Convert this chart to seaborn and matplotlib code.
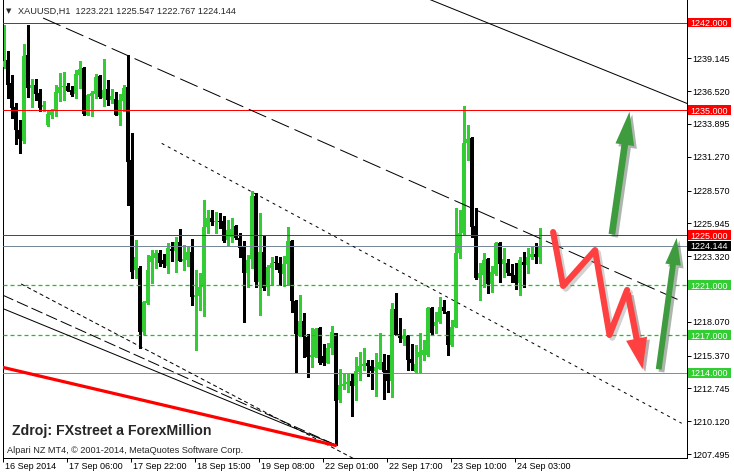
import numpy as np
import pandas as pd
import matplotlib
matplotlib.use("Agg")
import matplotlib.pyplot as plt
import seaborn as sns
from matplotlib.patches import FancyArrowPatch, Rectangle, ArrowStyle
from matplotlib.transforms import ScaledTranslation
import matplotlib.patheffects as pe
from matplotlib import font_manager as fm

# ---------------- data ----------------
title_text = "XAUUSD,H1  1223.221 1225.547 1222.767 1224.144"
source_text = "Zdroj: FXstreet a ForexMillion"
copyright_text = "Alpari NZ MT4, \u00a9 2001-2014, MetaQuotes Software Corp."

opens = [1238.42, 1239.02, 1237.16, 1235.24, 1233.40, 1232.54, 1239.42, 1236.76, 1237.02, 1236.36,
         1235.22, 1233.78, 1234.58, 1234.90, 1236.36, 1236.86, 1236.94, 1236.62, 1236.28, 1237.78,
         1238.36, 1234.62, 1236.10, 1236.28, 1237.70, 1235.96, 1236.70, 1235.82, 1235.90, 1234.62,
         1235.70, 1236.82, 1231.00, 1222.20, 1222.34, 1217.24, 1219.54, 1222.86, 1223.14, 1223.54,
         1223.00, 1222.52, 1223.88, 1223.74, 1224.46, 1222.94, 1223.00, 1223.66, 1220.06, 1220.12,
         1220.82, 1225.62, 1226.34, 1226.06, 1226.14, 1226.14, 1224.60, 1224.86, 1225.72, 1224.74,
         1224.06, 1221.94, 1223.06, 1228.12, 1221.26, 1223.66, 1220.82, 1222.34, 1222.78, 1222.78,
         1221.88, 1222.68, 1224.54, 1219.74, 1217.00, 1218.14, 1216.86, 1215.26, 1215.26, 1217.58,
         1215.32, 1214.78, 1215.94, 1217.14, 1211.80, 1212.92, 1213.14, 1213.32, 1212.92, 1214.06,
         1214.52, 1214.78, 1214.52, 1214.14, 1214.34, 1214.84, 1214.20, 1213.34, 1219.06, 1217.08,
         1216.68, 1216.92, 1215.08, 1214.06, 1215.27, 1215.40, 1215.40, 1219.14, 1217.72, 1218.06,
         1219.26, 1218.86, 1216.20, 1217.66, 1223.54, 1225.14, 1232.38, 1232.74, 1225.72, 1221.54,
         1221.80, 1223.06, 1221.08, 1221.88, 1224.38, 1222.68, 1222.74, 1221.98, 1221.80, 1221.18,
         1222.86, 1222.60, 1223.26, 1223.48, 1223.221]
highs = [1241.82, 1239.70, 1237.82, 1235.56, 1234.22, 1240.28, 1241.78, 1237.50, 1237.50, 1236.70,
         1235.74, 1234.90, 1235.10, 1237.02, 1237.96, 1238.04, 1237.16, 1236.90, 1238.22, 1238.94,
         1238.42, 1236.28, 1236.54, 1237.88, 1237.82, 1239.10, 1237.42, 1236.70, 1236.44, 1236.28,
         1237.02, 1239.42, 1233.14, 1224.60, 1222.52, 1219.72, 1223.40, 1223.80, 1223.80, 1223.80,
         1223.48, 1224.38, 1224.46, 1224.86, 1225.48, 1224.20, 1224.06, 1224.66, 1222.20, 1221.94,
         1227.80, 1227.00, 1227.00, 1226.86, 1226.74, 1226.52, 1226.20, 1226.34, 1225.80, 1225.14,
         1224.54, 1223.40, 1228.54, 1228.34, 1226.74, 1224.92, 1222.60, 1223.26, 1223.32, 1223.26,
         1223.32, 1225.66, 1224.60, 1219.80, 1220.20, 1218.78, 1217.08, 1217.54, 1217.56, 1217.64,
         1216.28, 1216.34, 1217.72, 1217.18, 1214.34, 1213.94, 1213.98, 1213.98, 1215.26, 1215.66,
         1215.94, 1215.06, 1215.00, 1215.58, 1217.18, 1215.54, 1215.40, 1219.58, 1220.34, 1218.34,
         1217.46, 1217.00, 1216.28, 1216.20, 1217.16, 1216.60, 1219.24, 1219.24, 1218.86, 1220.02,
         1219.80, 1218.92, 1218.20, 1227.14, 1227.00, 1235.32, 1233.80, 1232.84, 1227.14, 1222.74,
         1223.54, 1223.16, 1222.52, 1224.46, 1224.46, 1223.94, 1223.06, 1222.68, 1222.74, 1223.26,
         1223.66, 1223.94, 1224.06, 1224.34, 1225.547]
lows = [1238.36, 1235.96, 1234.36, 1232.28, 1231.56, 1232.36, 1236.02, 1235.24, 1235.82, 1234.90,
        1234.94, 1233.70, 1234.36, 1234.50, 1235.70, 1235.82, 1236.50, 1236.10, 1235.96, 1236.76,
        1234.58, 1234.58, 1234.50, 1235.96, 1235.96, 1235.30, 1235.38, 1235.56, 1234.58, 1233.78,
        1234.90, 1227.40, 1221.54, 1221.54, 1215.94, 1217.08, 1219.48, 1221.18, 1222.34, 1222.52,
        1222.42, 1221.98, 1222.94, 1222.06, 1222.92, 1222.20, 1222.52, 1219.40, 1215.80, 1219.00,
        1218.52, 1225.14, 1225.80, 1225.14, 1225.54, 1224.46, 1224.20, 1224.46, 1224.66, 1223.26,
        1218.06, 1220.86, 1222.34, 1220.84, 1218.60, 1220.60, 1220.20, 1221.00, 1222.26, 1221.00,
        1220.92, 1221.00, 1218.86, 1214.00, 1216.92, 1215.26, 1213.66, 1214.46, 1215.24, 1214.74,
        1214.60, 1214.76, 1215.54, 1208.20, 1211.66, 1212.74, 1212.46, 1210.54, 1211.80, 1213.40,
        1214.20, 1213.72, 1212.74, 1212.12, 1214.28, 1211.94, 1212.46, 1212.06, 1216.98, 1216.46,
        1216.20, 1214.26, 1214.26, 1214.04, 1214.04, 1215.00, 1215.32, 1217.08, 1217.14, 1217.96,
        1218.76, 1215.40, 1216.12, 1217.64, 1223.14, 1225.08, 1231.00, 1224.86, 1221.50, 1219.80,
        1220.86, 1220.38, 1220.44, 1221.84, 1221.26, 1221.66, 1221.80, 1221.26, 1220.66, 1220.20,
        1220.86, 1221.94, 1223.06, 1222.78, 1222.767]
closes = [1238.94, 1237.02, 1235.16, 1233.40, 1232.68, 1239.30, 1236.76, 1237.02, 1236.28, 1235.16,
          1235.38, 1234.68, 1234.90, 1236.44, 1236.84, 1236.94, 1236.54, 1236.22, 1237.88, 1238.30,
          1234.68, 1236.18, 1236.36, 1237.62, 1236.02, 1236.62, 1235.82, 1236.10, 1234.62, 1235.82,
          1236.76, 1230.86, 1222.06, 1223.26, 1217.26, 1219.66, 1222.20, 1223.32, 1223.58, 1222.78,
          1222.68, 1223.94, 1223.72, 1224.46, 1222.94, 1223.10, 1223.66, 1220.06, 1220.20, 1220.82,
          1225.66, 1226.34, 1226.06, 1226.14, 1226.04, 1224.54, 1225.40, 1225.46, 1224.74, 1223.94,
          1221.94, 1223.00, 1228.12, 1221.26, 1223.66, 1220.74, 1222.42, 1222.78, 1222.74, 1221.94,
          1222.68, 1224.54, 1219.74, 1217.08, 1218.14, 1216.82, 1215.26, 1215.40, 1217.46, 1214.78,
          1214.78, 1215.94, 1217.22, 1211.74, 1213.00, 1213.14, 1213.26, 1212.92, 1214.14, 1214.52,
          1214.68, 1214.52, 1214.14, 1214.46, 1214.86, 1214.06, 1213.34, 1219.06, 1217.02, 1216.74,
          1216.92, 1215.06, 1214.78, 1214.74, 1215.67, 1215.80, 1219.14, 1217.14, 1218.04, 1219.26,
          1218.94, 1216.20, 1217.66, 1223.54, 1225.14, 1232.34, 1232.66, 1225.66, 1221.54, 1221.94,
          1223.00, 1221.08, 1222.06, 1224.38, 1222.68, 1223.06, 1221.94, 1221.72, 1221.18, 1223.00,
          1222.60, 1223.26, 1223.48, 1223.22, 1224.144]

time_tick_bars = [0, 16, 32, 48, 64, 80, 96, 112, 128]
time_labels = ["16 Sep 2014", "17 Sep 06:00", "17 Sep 22:00", "18 Sep 15:00", "19 Sep 08:00",
               "22 Sep 01:00", "22 Sep 17:00", "23 Sep 10:00", "24 Sep 03:00"]
price_ticks = [1239.145, 1236.520, 1233.895, 1231.270, 1228.570, 1225.945, 1223.320,
               1220.695, 1218.070, 1215.370, 1212.745, 1210.120, 1207.495]
red_levels = [1242.0, 1235.0, 1225.0]
green_dashed_levels = [1221.0, 1217.0]
green_solid_levels = [1214.0]
bid_price = 1224.144

# trend lines: (bar index list, price list)
upper_long_dash = ([9.9, 169.1], [1242.36, 1219.78])
upper_solid = ([100.0, 171.5], [1244.69, 1235.45])
middle_dotted = ([39.55, 169.55], [1232.34, 1209.96])
lower_solid = ([-0.3, 83.0], [1219.15, 1208.23])
lower_long_dash = ([-0.3, 83.0], [1220.22, 1208.23])
lower_dotted = ([4.4, 87.4], [1221.10, 1207.16])
lower_red = ([-0.3, 83.0], [1214.44, 1208.19])

# hand-drawn forecast arrows (bar index, price)
red_zigzag_bars = [137.4, 139.9, 147.9, 151.5, 155.9, 159.9]
red_zigzag_prices = [1225.25, 1220.94, 1223.81, 1217.02, 1220.62, 1214.06]
green_arrow1 = ((152.0, 1224.85), (156.6, 1235.09))
green_arrow2 = ((163.7, 1214.06), (168.4, 1225.01))

# ---------------- style ----------------
sns.set_theme(style="white")
names = {f.name for f in fm.fontManager.ttflist}
base_font = "Liberation Sans" if "Liberation Sans" in names else "DejaVu Sans"
narrow_font = "Liberation Sans Narrow" if "Liberation Sans Narrow" in names else base_font
plt.rcParams["font.family"] = [base_font, "DejaVu Sans"]

W, H = 734, 475
fig = plt.figure(figsize=(W / 100, H / 100), dpi=100, facecolor="white")
ax_left, ax_right, ax_top, ax_bot = 2.7, 686.7, 0.0, 457.7
ax = fig.add_axes([ax_left / W, 1 - ax_bot / H, (ax_right - ax_left) / W, (ax_bot - ax_top) / H])
ax.set_facecolor("white")

X0 = -0.2
X1 = 170.8
Y0 = 1207.21
Y1 = 1243.80
ax.set_xlim(X0, X1)
ax.set_ylim(Y0, Y1)

df = pd.DataFrame({"bar": np.arange(len(opens)), "open": opens, "high": highs,
                   "low": lows, "close": closes})
df["bull"] = df["close"] >= df["open"]
df["color"] = np.where(df["bull"], "#32CD32", "#000000")
df["body_lo"] = df[["open", "close"]].min(axis=1)
df["body_h"] = (df["close"] - df["open"]).abs().clip(lower=0.09)

PX = 0.72  # one pixel in points
ax.vlines(df["bar"], df["low"], df["high"], colors=df["color"], linewidth=PX * 1.1,
          zorder=2, antialiased=False)
ax.bar(df["bar"], df["body_h"], bottom=df["body_lo"], width=0.74, color=df["color"],
       linewidth=0, zorder=3, antialiased=False)

# horizontal levels
for lv in red_levels:
    ax.axhline(lv, color="#FF0000", lw=PX, zorder=4)
for lv in green_dashed_levels:
    ax.axhline(lv, color="#1FC01F", lw=PX * 1.25, ls=(0, (3.2, 2.4)), zorder=4)
for lv in green_solid_levels:
    ax.axhline(lv, color="#32CD32", lw=PX, zorder=4)
ax.axhline(bid_price, color="#778899", lw=PX, zorder=4)


def trend(xy, ls, color="black", lw=PX):
    sns.lineplot(x=xy[0], y=xy[1], ax=ax, color=color, linewidth=lw, linestyle=ls,
                 sort=False, estimator=None, legend=False, zorder=5)


trend(upper_long_dash, (0, (19, 6)))
trend(upper_solid, "-")
trend(middle_dotted, (0, (3, 4)))
trend(lower_solid, "-")
trend(lower_long_dash, (0, (12, 4)))
trend(lower_dotted, (0, (4, 3)))
trend(lower_red, "-", color="#FF0000", lw=2.3)

# forecast arrows
red_col = "#FF4040"
shadow = [pe.SimpleLineShadow(offset=(2, -2), shadow_color="gray", alpha=0.35), pe.Normal()]
ax.plot(red_zigzag_bars[:-1], red_zigzag_prices[:-1], color=red_col, lw=4.4,
        solid_joinstyle="round", solid_capstyle="round", zorder=6, path_effects=shadow)
arr_r = FancyArrowPatch((red_zigzag_bars[-2], red_zigzag_prices[-2]),
                        (red_zigzag_bars[-1], red_zigzag_prices[-1]),
                        arrowstyle=ArrowStyle("Simple", head_length=1.6, head_width=1.1, tail_width=0.32),
                        mutation_scale=14, color=red_col, lw=0, zorder=6,
                        path_effects=[pe.withSimplePatchShadow(offset=(2, -2), alpha=0.35)])
ax.add_patch(arr_r)

green_col = "#3E9B3E"
for (tail, tip), (hl, hw, tw) in zip([green_arrow1, green_arrow2],
                                     [(1.6, 0.9, 0.32), (1.3, 0.75, 0.28)]):
    a = FancyArrowPatch(tail, tip,
                        arrowstyle=ArrowStyle("Simple", head_length=hl, head_width=hw, tail_width=tw),
                        mutation_scale=15, color=green_col, lw=0, zorder=6,
                        path_effects=[pe.withSimplePatchShadow(offset=(2, -2), alpha=0.35)])
    ax.add_patch(a)

# axes styling
for s in ["left", "bottom", "right"]:
    ax.spines[s].set_visible(True)
    ax.spines[s].set_color("black")
    ax.spines[s].set_linewidth(PX)
ax.spines["top"].set_visible(False)

covered = [lv for lv in green_dashed_levels + green_solid_levels + red_levels]
ax.yaxis.tick_right()
ax.set_yticks(price_ticks)
ax.set_yticklabels(["" if any(abs(p - c) < 0.5 for c in covered) else f"{p:.3f}"
                    for p in price_ticks])
ax.tick_params(axis="y", which="both", right=True, left=False, length=2.6, width=PX,
               pad=1.4, labelsize=6.5, colors="black", direction="out")

ax.set_xticks([b - 0.2 for b in time_tick_bars])
ax.set_xticklabels(time_labels)
ax.tick_params(axis="x", which="both", bottom=True, length=3.0, width=PX, pad=0.2,
               labelsize=6.5, colors="black", direction="out")
for lbl in ax.get_xticklabels():
    lbl.set_horizontalalignment("left")
    lbl.set_transform(lbl.get_transform() + ScaledTranslation(2 / 100, 0, fig.dpi_scale_trans))
ax.set_xlabel("")
ax.set_ylabel("")

# coloured price labels on the right scale
ytr = ax.get_yaxis_transform()
box_x0 = (688.3 - ax_left) / (ax_right - ax_left)
box_w = 42.6 / (ax_right - ax_left)
box_h = 9.6 / (H / (Y1 - Y0) * (ax_bot - ax_top) / H)
label_specs = ([(lv, "#FF0000") for lv in red_levels] + [(bid_price, "#000000")] +
               [(lv, "#32CD32") for lv in green_dashed_levels + green_solid_levels])
for lv, col in label_specs:
    ax.add_patch(Rectangle((box_x0, lv - box_h / 2), box_w, box_h, transform=ytr,
                           facecolor=col, edgecolor="none", clip_on=False, zorder=8))
    ax.text(box_x0 + 2.2 / (ax_right - ax_left), lv, f"{lv:.3f}", transform=ytr, ha="left",
            va="center_baseline", fontsize=6.5, color="white", clip_on=False, zorder=9)

# texts


def fx(x):
    return x / W


def fy(y):
    return 1 - y / H


fig.text(fx(9), fy(10.8), "\u25bc", fontsize=5, ha="center", va="center", family="DejaVu Sans")
fig.text(fx(18), fy(10.8), title_text, fontsize=6.6, ha="left", va="center_baseline")
fig.text(fx(11.5), fy(429.5), source_text, fontsize=10.2, fontweight="bold",
         family=[narrow_font, "DejaVu Sans"], ha="left", va="center_baseline", zorder=10)
fig.text(fx(7), fy(449.5), copyright_text, fontsize=6.6, ha="left", va="center_baseline")

fig.savefig("out.png", dpi=100, facecolor="white")
